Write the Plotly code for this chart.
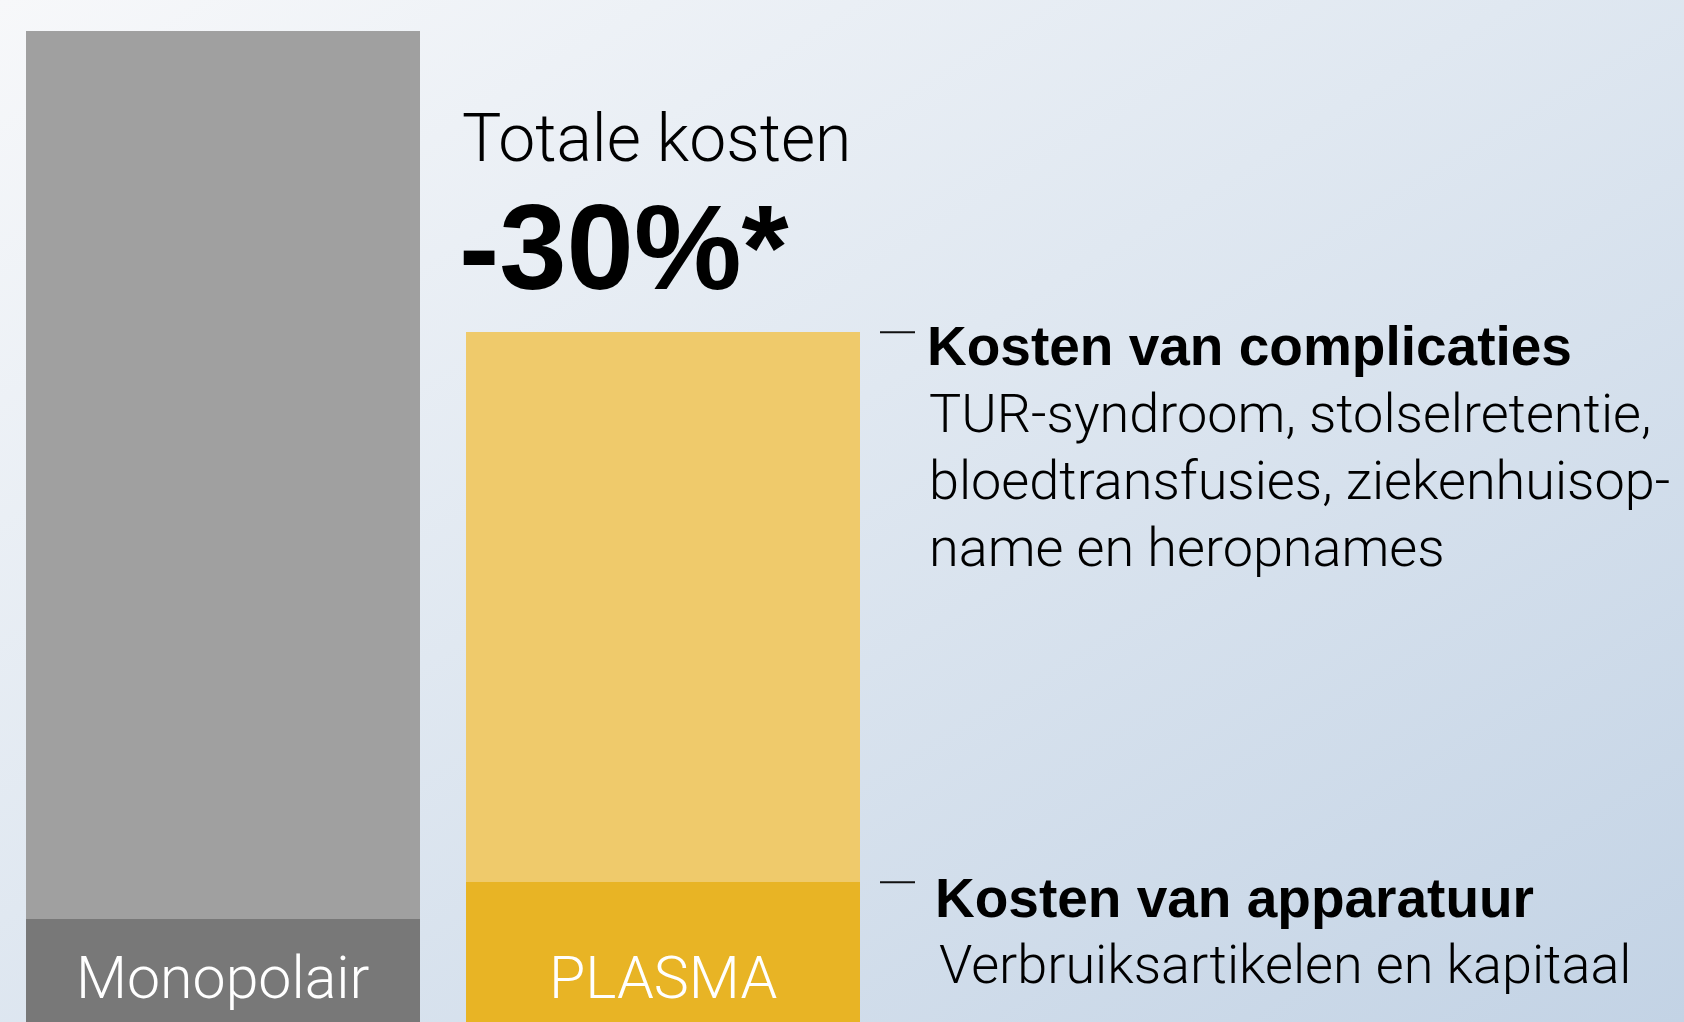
import base64
import plotly.graph_objects as go

# ---- data ----
categories = ["Monopolair", "PLASMA"]
kosten_apparatuur = [10.4, 14.1]
kosten_complicaties = [89.6, 55.5]

colors_apparatuur = ["#787878", "#e8b425"]
colors_complicaties = ["#a0a0a0", "#efca6b"]

title_line = "Totale kosten"
reduction_label = "-30%*"
head_compl = "Kosten van complicaties"
body_compl = ["TUR-syndroom, stolselretentie,", "bloedtransfusies, ziekenhuisop-", "name en heropnames"]
head_app = "Kosten van apparatuur"
body_app = ["Verbruiksartikelen en kapitaal"]

# ---- layout constants ----
W, H = 1684, 1022
FONT_BOLD = "Liberation Sans, Arial, sans-serif"
FONT_LIGHT = "Roboto, Liberation Sans, Arial, sans-serif"


def yp(px):
    return 1 - px / H


def xp(px):
    return px / W


# background gradient as an svg image
svg = f'''<svg xmlns="http://www.w3.org/2000/svg" width="{W}" height="{H}" viewBox="0 0 {W} {H}" preserveAspectRatio="none">
<defs><linearGradient id="g" x1="0" y1="0" x2="1" y2="1">
<stop offset="0" stop-color="#f7f8fa"/>
<stop offset="0.45" stop-color="#e0e8f1"/>
<stop offset="1" stop-color="#c3d3e5"/>
</linearGradient></defs>
<rect x="0" y="0" width="{W}" height="{H}" fill="url(#g)"/></svg>'''
svg_uri = "data:image/svg+xml;base64," + base64.b64encode(svg.encode()).decode()

fig = go.Figure()
fig.add_trace(go.Bar(
    x=categories, y=kosten_apparatuur, name=head_app,
    marker=dict(color=colors_apparatuur, line=dict(width=0)),
    width=0.8955, hoverinfo="skip",
))
fig.add_trace(go.Bar(
    x=categories, y=kosten_complicaties, name=head_compl,
    marker=dict(color=colors_complicaties, line=dict(width=0)),
    width=0.8955, hoverinfo="skip",
))

totals = [a + c for a, c in zip(kosten_apparatuur, kosten_complicaties)]
ymax = max(totals) * H / (H - 31)

annotations = []


def add_text(text, x_px, baseline_px, size, bold=False, color="black", xanchor="left", xref="paper", x=None):
    if bold:
        center = baseline_px - 0.3465 * size
        font = dict(family=FONT_BOLD, size=size, color=color, weight=700)
    else:
        center = baseline_px - 0.342 * size
        font = dict(family=FONT_LIGHT, size=size, color=color, weight=300)
    annotations.append(dict(
        text=text,
        x=x if x is not None else xp(x_px), xref=xref,
        y=yp(center), yref="paper",
        xanchor=xanchor, yanchor="middle", align="left",
        showarrow=False,
        font=font,
    ))


add_text(title_line, 460, 161, 66)
add_text(reduction_label, 457, 289, 121, bold=True)
add_text(head_compl, 925, 365, 55, bold=True)
for i, line in enumerate(body_compl):
    add_text(line, 927, 432 + 67 * i, 54)
add_text(head_app, 933, 917, 55, bold=True)
for i, line in enumerate(body_app):
    add_text(line, 937, 983 + 67 * i, 54)
for cat in categories:
    add_text(cat, 0, 998, 59, color="white", xanchor="center", xref="x", x=cat)

# small leader dashes at the top of each PLASMA segment
shapes = []
for yv in [totals[1], kosten_apparatuur[1]]:
    shapes.append(dict(type="line", xref="paper", yref="y",
                       x0=xp(880), x1=xp(915), y0=yv, y1=yv,
                       line=dict(color="#111111", width=2)))

fig.update_layout(
    width=W, height=H,
    margin=dict(l=0, r=0, t=0, b=0),
    barmode="stack",
    showlegend=False,
    paper_bgcolor="#dde5ef",
    plot_bgcolor="rgba(0,0,0,0)",
    xaxis=dict(type="category", categoryarray=categories, range=[-223 / 440, (W - 223) / 440],
               showticklabels=False, showgrid=False, zeroline=False, showline=False, ticks=""),
    yaxis=dict(range=[0, ymax], showticklabels=False, showgrid=False, zeroline=False,
               showline=False, ticks=""),
    annotations=annotations,
    shapes=shapes,
    images=[dict(source=svg_uri, xref="paper", yref="paper", x=0, y=1, sizex=1, sizey=1,
                 sizing="stretch", layer="below", xanchor="left", yanchor="top")],
    hovermode=False,
)

fig.write_html(
    "out.html",
    config={"displayModeBar": False},
    post_script="document.body.style.margin='0';document.body.style.overflow='hidden';",
)
